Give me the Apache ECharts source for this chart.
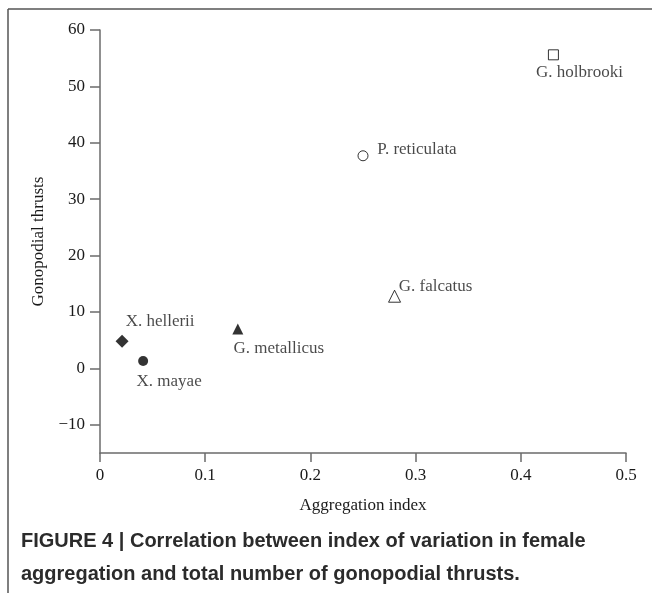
<!DOCTYPE html>
<html>
<head>
<meta charset="utf-8">
<script src="https://cdn.jsdelivr.net/npm/echarts@6/dist/echarts.min.js"></script>
<style>
  html, body { margin: 0; padding: 0; background: #fff; }
  #chart { width: 652px; height: 593px; }
</style>
</head>
<body>
<div id="chart"></div>
<script>
// species, aggregation index (x), gonopodial thrusts (y)
const species = ['X. hellerii', 'X. mayae', 'G. metallicus', 'P. reticulata', 'G. falcatus', 'G. holbrooki']
const aggregationIndex = [0.021, 0.041, 0.131, 0.25, 0.28, 0.431]
const thrusts = [4.8, 1.3, 7.0, 37.7, 12.8, 55.6]
const yTicks = [-10, 0, 10, 20, 30, 40, 50, 60]
const xTicks = [0, 0.1, 0.2, 0.3, 0.4, 0.5]

// marker look + label placement per species
const markStyle = {
  'X. hellerii':   { symbol: 'diamond',  size: 13, fill: '#000', offset: [38, -20] },
  'X. mayae':      { symbol: 'circle',   size: 10, fill: '#000', offset: [26, 20] },
  'G. metallicus': { symbol: 'triangle', size: 11, fill: '#000', offset: [41, 20] },
  'P. reticulata': { symbol: 'circle',   size: 10, fill: '#fff', offset: [54, -6] },
  'G. falcatus':   { symbol: 'triangle', size: 12, fill: '#fff', offset: [41, -10] },
  'G. holbrooki':  { symbol: 'rect',     size: 10, fill: '#fff', offset: [26, 18] }
}

const serif = '"Liberation Serif", "DejaVu Serif", serif'
const textColor = '#1a1a1a'
const axisColor = '#6b6b6b'

const chart = echarts.init(document.getElementById('chart'))

const points = species.map((name, i) => {
  const st = markStyle[name]
  return {
    name: name,
    value: [aggregationIndex[i], thrusts[i]],
    symbol: st.symbol,
    symbolSize: st.size,
    itemStyle: { color: st.fill, borderColor: '#000', borderWidth: st.fill === '#fff' ? 1 : 0 },
    label: { offset: st.offset }
  }
})

chart.setOption({
  animation: false,
  grid: { left: 100, right: 26, top: 30, bottom: 140 },
  xAxis: {
    type: 'value',
    min: 0, max: 0.5, interval: 0.1,
    name: 'Aggregation index',
    nameLocation: 'middle',
    nameGap: 44,
    nameTextStyle: { fontFamily: serif, fontSize: 17, color: textColor },
    axisLine: { onZero: false, lineStyle: { color: axisColor, width: 1.5 } },
    axisTick: { show: true, length: 9, lineStyle: { color: axisColor, width: 1.5 } },
    axisLabel: {
      margin: 14, fontFamily: serif, fontSize: 17, color: textColor,
      customValues: xTicks,
      formatter: v => String(v)
    },
    splitLine: { show: false }
  },
  yAxis: {
    type: 'value',
    min: -15, max: 60,
    name: 'Gonopodial thrusts',
    nameLocation: 'middle',
    nameGap: 48,
    nameTextStyle: { fontFamily: serif, fontSize: 17, color: textColor },
    axisLine: { show: true, onZero: false, lineStyle: { color: axisColor, width: 1.5 } },
    axisTick: { show: true, length: 10, customValues: yTicks, lineStyle: { color: axisColor, width: 1.5 } },
    axisLabel: {
      margin: 15, fontFamily: serif, fontSize: 17, color: textColor,
      customValues: yTicks,
      formatter: v => String(v).replace('-', '\u2212')
    },
    splitLine: { show: false }
  },
  series: [{
    type: 'scatter',
    data: points,
    label: {
      show: true,
      position: 'inside',
      formatter: p => p.name,
      fontFamily: serif,
      fontSize: 17,
      color: textColor
    }
  }],
  graphic: [
    { type: 'line', shape: { x1: 8, y1: 9, x2: 652, y2: 9 }, style: { stroke: '#555', lineWidth: 1.5 } },
    { type: 'line', shape: { x1: 8, y1: 9, x2: 8, y2: 593 }, style: { stroke: '#555', lineWidth: 1.5 } },
    {
      type: 'text', left: 21, top: 525,
      style: {
        text: 'FIGURE 4 | Correlation between index of variation in female\naggregation and total number of gonopodial thrusts.',
        font: 'bold 20px "Liberation Sans", Arial, sans-serif',
        fill: '#2b2b2b',
        lineHeight: 33
      }
    }
  ]
})
</script>
</body>
</html>
